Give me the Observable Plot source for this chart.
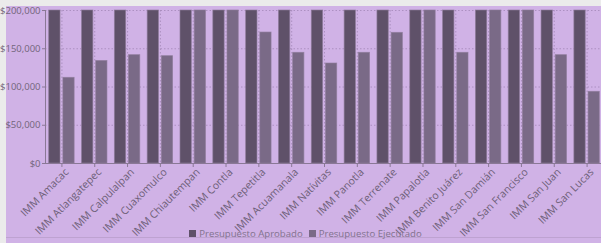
<!DOCTYPE html>
<html><head><meta charset="utf-8">
<script src="https://cdn.jsdelivr.net/npm/d3@7"></script>
<script src="https://cdn.jsdelivr.net/npm/@observablehq/plot@0.6"></script>
<style>
body{margin:0;background:#ebebeb;width:601px;height:243px;overflow:hidden;font-family:"Segoe UI","Open Sans",sans-serif}
#panel{position:absolute;left:6px;top:6px;width:595px;height:237px;background:#d0b2e6;overflow:visible}
#chart{position:absolute;left:0;top:0}
#chart svg{overflow:visible;max-width:none}
#rule{position:absolute;left:0;top:231px;width:595px;height:1px;background:#bea2d1}
#legend{position:absolute;top:221px;left:2px;width:595px;text-align:center;font-size:9.6px;color:#82738e;white-space:nowrap}
#legend span.sw{display:inline-block;width:7px;height:7px;margin-right:3px;vertical-align:0px}
#legend span.item{margin:0 3px}
</style></head>
<body>
<div id="panel"><div id="chart"></div><div id="rule"></div><div id="legend"></div></div>
<script>
const categories = ["IMM Amacac","IMM Atlangatepec","IMM Calpulalpan","IMM Cuaxomulco","IMM Chiautempan","IMM Contla","IMM Tepetitla","IMM Acuamanala","IMM Natívitas","IMM Panotla","IMM Terrenate","IMM Papalotla","IMM Benito Juárez","IMM San Damián","IMM San Francisco","IMM San Juan","IMM San Lucas"];
const series = ["Presupuesto Aprobado","Presupuesto Ejecutado"];
const aprobado = [250000,250000,250000,250000,250000,250000,250000,250000,250000,250000,250000,250000,250000,250000,250000,250000,250000];
const ejecutado = [112000,134000,141600,140300,205000,205000,171200,144700,130700,144700,170800,205000,144700,205000,205000,141600,93700];
const yTicks = [0,50000,100000,150000,200000];
const colors = ["#5f5169","#7a6a87"];

const dataA = categories.map((c,i)=>({cat:c, v:aprobado[i]}));
const dataE = categories.map((c,i)=>({cat:c, v:ejecutado[i]}));

const gridStyle = {stroke:"#9c82b0", strokeOpacity:0.7, strokeDasharray:"1.5,2"};
const barStyle = {stroke:"#8e7c9b", strokeWidth:0.8, strokeOpacity:0.8};

const chart = Plot.plot({
  width:597, height:225, marginLeft:39, marginTop:4, marginBottom:68, marginRight:0,
  style:{background:"transparent", fontFamily:"'Segoe UI','Open Sans',sans-serif", fontSize:"10px", color:"#6e6078"},
  x:{domain:categories, padding:0, round:false, label:null, axis:null},
  y:{domain:[0,200000], clamp:true, label:null, axis:null},
  marks:[
    Plot.gridY(yTicks, gridStyle),
    Plot.gridX(categories, gridStyle),
    Plot.barY(dataA, {x:"cat", y:"v", fill:colors[0], insetLeft:3.7, insetRight:17.8, ...barStyle}),
    Plot.barY(dataE, {x:"cat", y:"v", fill:colors[1], insetLeft:17.9, insetRight:3.7, ...barStyle}),
    Plot.ruleY([0], {stroke:"#8a7896", strokeWidth:1}),
    Plot.frame({anchor:"left", stroke:"#8a7896"}),
    Plot.axisY({ticks:yTicks, tickFormat:d3.format("$,"), tickSize:3, tickPadding:2, fontSize:9.5, fill:"#72657b", stroke:"#8a7896", label:null}),
    Plot.axisX({ticks:categories, tickSize:4, tickFormat:null, stroke:"#8a7896", label:null, text:null}),
    Plot.text(categories, {x:d=>d, frameAnchor:"bottom", rotate:-45, textAnchor:"end", lineAnchor:"top", dx:2, dy:4, fontSize:10.5, fill:"#6e6078"})
  ]
});
document.getElementById("chart").appendChild(chart);

const leg = document.getElementById("legend");
series.forEach((s,i)=>{
  const it = document.createElement("span"); it.className="item";
  const sw = document.createElement("span"); sw.className="sw"; sw.style.background=colors[i];
  it.appendChild(sw); it.appendChild(document.createTextNode(s));
  leg.appendChild(it);
});
</script>
</body></html>
